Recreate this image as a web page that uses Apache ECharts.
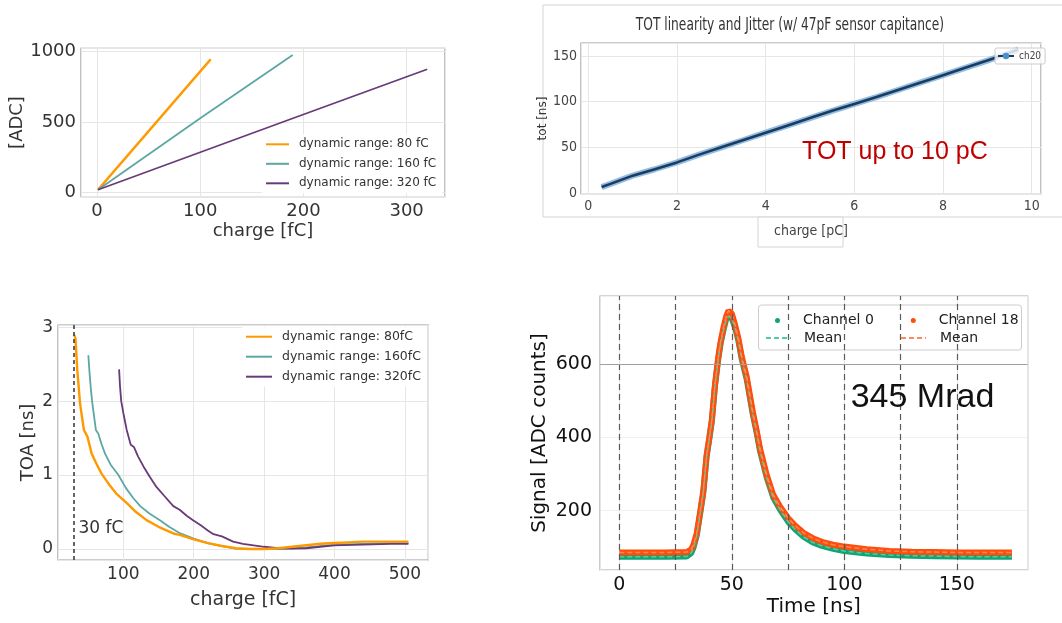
<!DOCTYPE html>
<html><head><meta charset="utf-8">
<script src="https://cdn.jsdelivr.net/npm/echarts@6/dist/echarts.min.js"></script>
<style>html,body{margin:0;padding:0;background:#fff}#c{width:1062px;height:623px}</style>
</head><body><div id="c"></div>
<script>
// ---------- Panel A: ADC vs charge ----------
const adcCharge80 = [1, 110.2];
const adc80 = [18, 946];
const adcCharge160 = [1, 100, 189.6];
const adc160 = [18, 526, 976];
const adcCharge320 = [1, 180, 320];
const adc320 = [18, 500, 875];
const adcNames = ['dynamic range: 80 fC', 'dynamic range: 160 fC', 'dynamic range: 320 fC'];

// ---------- Panel B: TOT linearity ----------
const totCharge = [0.3, 0.5, 1, 1.5, 2, 2.5, 3, 3.5, 4, 4.5, 5, 5.5, 6, 6.5, 7, 7.5, 8, 8.5, 9, 9.3, 9.7];
const totValue  = [6.5, 10, 19, 26, 33.5, 42, 50, 58, 66, 74, 82, 90, 97.5, 105, 113, 121, 129, 137, 145, 150, 157];
const totTitle = 'TOT linearity and Jitter (w/ 47pF sensor capitance)';

// ---------- Panel C: TOA vs charge ----------
const toaCharge80 = [30, 32, 34.6, 38.5, 44, 49, 55, 62, 69, 80, 90, 105, 118, 133, 150, 171, 180, 200, 220, 240, 260, 280, 300, 320, 340, 360, 380, 400, 420, 440, 470, 505];
const toa80 = [2.9, 2.85, 2.42, 1.97, 1.61, 1.52, 1.29, 1.15, 1.02, 0.87, 0.75, 0.62, 0.5, 0.39, 0.3, 0.21, 0.19, 0.13, 0.08, 0.04, 0.01, 0, 0, 0.01, 0.03, 0.05, 0.07, 0.08, 0.09, 0.1, 0.1, 0.1];
const toaCharge160 = [50.3, 51.7, 54, 56, 61, 64.5, 69, 74, 82, 93, 104, 114, 124, 137, 152, 165, 181, 200, 220, 240, 260, 280, 300, 320, 340, 360, 380, 400, 440, 480, 505];
const toa160 = [2.62, 2.42, 2.15, 1.97, 1.61, 1.56, 1.42, 1.29, 1.14, 1.0, 0.82, 0.69, 0.58, 0.48, 0.39, 0.3, 0.21, 0.14, 0.08, 0.04, 0.005, 0, 0, 0, 0.01, 0.02, 0.04, 0.06, 0.07, 0.08, 0.08];
const toaCharge320 = [94, 95.3, 97, 100, 104.8, 110.5, 115, 121, 129, 138, 147, 158, 171, 180, 190, 199, 210, 220, 228, 240, 256, 270, 285, 300, 320, 340, 360, 380, 400, 440, 480, 505];
const toa320 = [2.43, 2.2, 2.0, 1.84, 1.61, 1.41, 1.38, 1.25, 1.11, 0.97, 0.84, 0.72, 0.58, 0.53, 0.45, 0.39, 0.32, 0.25, 0.2, 0.17, 0.1, 0.07, 0.05, 0.03, 0.01, 0.005, 0.01, 0.03, 0.05, 0.06, 0.07, 0.07];
const toaNames = ['dynamic range: 80fC', 'dynamic range: 160fC', 'dynamic range: 320fC'];
const thresholdCharge = 30;

// ---------- Panel D: pulse shape ----------
const timeNs = [0, 10, 20, 30, 32, 33, 34.4, 36, 37.3, 38.8, 40, 41.1, 42.5, 44, 45, 46.2, 47.5, 48.5, 50, 51.4, 52.9, 54.4, 56.6, 59.3, 61.1, 62.5, 65.5, 68.4, 71.4, 75, 78, 82, 86, 90, 95, 100, 110, 120, 130, 140, 150, 160, 174.5];
const ch18Signal = [86, 86, 86, 87, 95, 108, 138, 200, 252, 352, 400, 447, 543, 620, 660, 697, 730, 745, 737, 707, 670, 620, 565, 470, 416, 370, 297, 243, 211, 180, 160, 139, 125, 115, 107, 102, 95, 90, 88, 87, 86, 86, 86];
const ch0Signal  = [74, 74, 74, 75, 85, 100, 132, 195, 248, 348, 396, 443, 540, 615, 655, 690, 722, 730, 724, 700, 664, 613, 558, 463, 410, 363, 290, 236, 203, 170, 150, 128, 113, 104, 96, 90, 83, 79, 77, 76, 75, 74, 74];
const timeMarkers = [0, 25, 50, 75, 100, 125, 150];
const refSignalLine = 600;

const pair = (xs, ys) => xs.map((x, i) => [x, ys[i]]);
const FONT = "'DejaVu Sans', sans-serif";
const NARROW = "'Liberation Sans Narrow', 'DejaVu Sans Condensed', 'DejaVu Sans', sans-serif";
const ARIAL = "'Liberation Sans', Arial, sans-serif";
const C_OR = '#ff9900', C_TE = '#5ba8a3', C_PU = '#6a3a78';
const C_G = '#14a374', C_R = '#ff4d0d';

const stepFmt = step => v => (Math.abs(v / step - Math.round(v / step)) < 1e-6 ? String(Math.round(v * 1000) / 1000) : '');

function axis(o) {
  return {
    type: 'value', gridIndex: o.g, min: o.min, max: o.max,
    minInterval: o.step, maxInterval: o.step,
    axisLine: { show: false },
    axisTick: { show: false },
    axisLabel: { formatter: stepFmt(o.step), fontSize: o.fs, color: o.lc || '#333', fontFamily: o.ff || FONT, margin: o.margin },
    splitLine: { show: o.split !== false, lineStyle: { color: o.sc || '#e6e6e6', width: 1 } },
    name: o.name, nameLocation: 'middle', nameGap: o.gap,
    nameTextStyle: { fontSize: o.nfs, color: o.nc || '#333', fontFamily: o.nff || FONT }
  };
}

const chart = echarts.init(document.getElementById('c'), null, { renderer: 'canvas' });

const hiddenSymbol = { opacity: 0 };

const option = {
  animation: false,
  backgroundColor: '#fff',
  graphic: [
    { type: 'rect', z: -10, shape: { x: 543, y: 5, width: 540, height: 212 }, style: { fill: '#fff', stroke: '#d4d4d4', lineWidth: 1 } },
    { type: 'rect', z: -10, shape: { x: 758, y: 217, width: 85, height: 30 }, style: { fill: '#fff', stroke: '#d4d4d4', lineWidth: 1 } },
    { type: 'text', z: 1, x: 790, y: 26, scaleX: 0.8,
      style: { text: totTitle, font: "17px 'DejaVu Sans Condensed', 'DejaVu Sans', sans-serif", fill: '#333', align: 'center', verticalAlign: 'middle' } },
    { type: 'rect', z: 5, shape: { x: 758.5, y: 305, width: 263, height: 45, r: 3 }, style: { fill: 'rgba(255,255,255,0.8)', stroke: '#cccccc', lineWidth: 1 } }
  ],
  grid: [
    { left: 81, top: 48.3, width: 364, height: 148.4, show: true, borderColor: '#9a9a9a', borderWidth: 1.2, backgroundColor: 'transparent' },
    { left: 581, top: 43, width: 460, height: 151, show: true, borderColor: '#9a9a9a', borderWidth: 1.2, backgroundColor: 'transparent' },
    { left: 58, top: 325, width: 370.3, height: 235, show: true, borderColor: '#9a9a9a', borderWidth: 1.2, backgroundColor: 'transparent' },
    { left: 600, top: 296, width: 427.7, height: 274, show: true, borderColor: '#aaaaaa', borderWidth: 1.2, backgroundColor: 'transparent' }
  ],
  xAxis: [
    axis({ g: 0, min: -15.5, max: 337.2, step: 100, fs: 18, margin: 6, name: 'charge [fC]', gap: 26, nfs: 18 }),
    axis({ g: 1, min: -0.165, max: 10.21, step: 2, fs: 14, ff: NARROW, lc: '#444', margin: 5, name: 'charge [pC]', gap: 30, nfs: 14, nff: NARROW, nc: '#444' }),
    axis({ g: 2, min: 7.2, max: 533.2, step: 100, fs: 17, margin: 6, name: 'charge [fC]', gap: 31, nfs: 19 }),
    axis({ g: 3, min: -8.6, max: 181.5, step: 50, fs: 19, margin: 6, name: 'Time [ns]', gap: 27, nfs: 20, lc: '#111', nc: '#111', sc: '#e4e4e4' })
  ],
  yAxis: [
    axis({ g: 0, min: -31.3, max: 1024, step: 500, fs: 18, margin: 5, name: '[ADC]', gap: 52, nfs: 18 }),
    axis({ g: 1, min: -1.1, max: 164.2, step: 50, fs: 14, ff: NARROW, lc: '#444', margin: 4, name: 'tot [ns]', gap: 19, nfs: 12, nc: '#333' }),
    axis({ g: 2, min: -0.149, max: 3.03, step: 1, fs: 17, margin: 5, name: 'TOA [ns]', gap: 21, nfs: 18 }),
    axis({ g: 3, min: 38.2, max: 785, step: 200, fs: 19, margin: 8, name: 'Signal [ADC counts]', gap: 50, nfs: 20, lc: '#111', nc: '#111', sc: '#f0f0f0' })
  ],
  legend: [
    { data: adcNames, orient: 'vertical', left: 262, top: 134.3, padding: [3, 6, 3, 3], itemWidth: 23, itemHeight: 14, itemGap: 5.5,
      itemStyle: hiddenSymbol,
      textStyle: { fontSize: 12, color: '#333', fontFamily: FONT, lineHeight: 14, padding: [0, 0, 0, 5] },
      backgroundColor: 'rgba(255,255,255,0.9)', borderWidth: 0, selectedMode: false, z: 10 },
    { data: ['ch20'], left: 995, top: 48, padding: [3, 4, 3, 2], itemWidth: 16, itemHeight: 8,
      textStyle: { fontSize: 10, color: '#444', fontFamily: NARROW },
      backgroundColor: 'rgba(255,255,255,0.8)', borderColor: '#cccccc', borderWidth: 1, borderRadius: 2, selectedMode: false, z: 10 },
    { data: toaNames, orient: 'vertical', left: 242, top: 326.7, padding: [3, 6, 3, 3], itemWidth: 26, itemHeight: 14, itemGap: 6,
      itemStyle: hiddenSymbol,
      textStyle: { fontSize: 12.5, color: '#333', fontFamily: FONT, lineHeight: 14, padding: [0, 0, 0, 5] },
      backgroundColor: 'rgba(255,255,255,0.9)', borderWidth: 0, selectedMode: false, z: 10 },
    { data: [{ name: 'Channel 0', icon: 'circle' }], left: 775, top: 313.5, padding: 0, itemWidth: 5, itemHeight: 5,
      textStyle: { fontSize: 14, color: '#222', fontFamily: FONT, padding: [0, 0, 0, 18] }, selectedMode: false, z: 10 },
    { data: [{ name: 'Channel 18', icon: 'circle' }], left: 910.8, top: 313.5, padding: 0, itemWidth: 5, itemHeight: 5,
      textStyle: { fontSize: 14, color: '#222', fontFamily: FONT, padding: [0, 0, 0, 18] }, selectedMode: false, z: 10 },
    { data: ['Mean'], left: 765, top: 331, padding: 0, itemWidth: 25, itemHeight: 10, itemStyle: hiddenSymbol,
      textStyle: { fontSize: 14, color: '#222', fontFamily: FONT, padding: [0, 0, 0, 8] }, selectedMode: false, z: 10 },
    { data: ['Mean '], left: 900, top: 331, padding: 0, itemWidth: 25, itemHeight: 10, itemStyle: hiddenSymbol,
      textStyle: { fontSize: 14, color: '#222', fontFamily: FONT, padding: [0, 0, 0, 9] }, selectedMode: false, z: 10 }
  ],
  series: [
    // Panel A
    { type: 'line', name: adcNames[0], xAxisIndex: 0, yAxisIndex: 0, data: pair(adcCharge80, adc80), symbol: 'none', lineStyle: { color: C_OR, width: 2.6 }, itemStyle: { color: C_OR } },
    { type: 'line', name: adcNames[1], xAxisIndex: 0, yAxisIndex: 0, data: pair(adcCharge160, adc160), symbol: 'none', lineStyle: { color: C_TE, width: 1.8 }, itemStyle: { color: C_TE } },
    { type: 'line', name: adcNames[2], xAxisIndex: 0, yAxisIndex: 0, data: pair(adcCharge320, adc320), symbol: 'none', lineStyle: { color: C_PU, width: 1.8 }, itemStyle: { color: C_PU } },
    // Panel B
    { type: 'line', name: 'ch20 band', xAxisIndex: 1, yAxisIndex: 1, data: pair(totCharge, totValue), symbol: 'none', silent: true,
      lineStyle: { color: '#7fb2dd', width: 6, opacity: 0.85 }, itemStyle: { color: '#7fb2dd' } },
    { type: 'line', name: 'ch20', xAxisIndex: 1, yAxisIndex: 1, data: pair(totCharge, totValue), symbol: 'circle', symbolSize: 4, showSymbol: false,
      lineStyle: { color: '#1b3b5f', width: 2.6 }, itemStyle: { color: '#4a8fc9' },
      markPoint: { symbol: 'circle', symbolSize: 1, itemStyle: { color: 'rgba(0,0,0,0)' }, silent: true,
        data: [{ coord: [4.81, 45.2] }],
        label: { show: true, position: 'right', distance: 0, formatter: 'TOT up to 10 pC', fontSize: 25, color: '#c00000', fontFamily: ARIAL } } },
    // Panel C
    { type: 'line', name: toaNames[0], xAxisIndex: 2, yAxisIndex: 2, data: pair(toaCharge80, toa80), symbol: 'none', lineStyle: { color: C_OR, width: 2.4 }, itemStyle: { color: C_OR }, z: 4,
      markLine: { silent: true, symbol: 'none', data: [{ xAxis: thresholdCharge }], lineStyle: { color: '#333', type: [4, 3], width: 1.5 }, label: { show: false } },
      markPoint: { symbol: 'circle', symbolSize: 1, itemStyle: { color: 'rgba(0,0,0,0)' }, silent: true,
        data: [{ coord: [thresholdCharge, 0.28] }],
        label: { show: true, position: 'right', distance: 4, formatter: '30 fC', fontSize: 17, color: '#333', fontFamily: FONT } } },
    { type: 'line', name: toaNames[1], xAxisIndex: 2, yAxisIndex: 2, data: pair(toaCharge160, toa160), symbol: 'none', lineStyle: { color: C_TE, width: 1.8 }, itemStyle: { color: C_TE }, z: 3 },
    { type: 'line', name: toaNames[2], xAxisIndex: 2, yAxisIndex: 2, data: pair(toaCharge320, toa320), symbol: 'none', lineStyle: { color: C_PU, width: 1.8 }, itemStyle: { color: C_PU }, z: 3 },
    // Panel D
    { type: 'line', name: 'Channel 0', xAxisIndex: 3, yAxisIndex: 3, data: pair(timeNs, ch0Signal), symbol: 'circle', symbolSize: 5, showSymbol: false,
      lineStyle: { color: C_G, width: 6 }, itemStyle: { color: C_G } },
    { type: 'line', name: 'Channel 18', xAxisIndex: 3, yAxisIndex: 3, data: pair(timeNs, ch18Signal), symbol: 'circle', symbolSize: 5, showSymbol: false,
      lineStyle: { color: C_R, width: 6 }, itemStyle: { color: C_R } },
    { type: 'line', name: 'Mean', xAxisIndex: 3, yAxisIndex: 3, data: pair(timeNs, ch0Signal), symbol: 'none',
      lineStyle: { color: '#4fcf9e', width: 1.5, type: [5, 3] }, itemStyle: { color: '#4fcf9e' } },
    { type: 'line', name: 'Mean ', xAxisIndex: 3, yAxisIndex: 3, data: pair(timeNs, ch18Signal), symbol: 'none',
      lineStyle: { color: '#ff8a55', width: 1.5, type: [5, 3] }, itemStyle: { color: '#ff8a55' },
      markLine: { silent: true, symbol: 'none', label: { show: false },
        data: timeMarkers.map(t => ({ xAxis: t, lineStyle: { color: '#5a5a5a', type: [6, 4], width: 1.2 } }))
          .concat([{ yAxis: refSignalLine, lineStyle: { color: '#a0a0a0', type: 'solid', width: 1.2 } }]) },
      markPoint: { symbol: 'circle', symbolSize: 1, itemStyle: { color: 'rgba(0,0,0,0)' }, silent: true,
        data: [{ coord: [102.6, 507] }],
        label: { show: true, position: 'right', distance: 0, formatter: '345 Mrad', fontSize: 34, color: '#111', fontFamily: ARIAL } } }
  ]
};
chart.setOption(option);
</script></body></html>
